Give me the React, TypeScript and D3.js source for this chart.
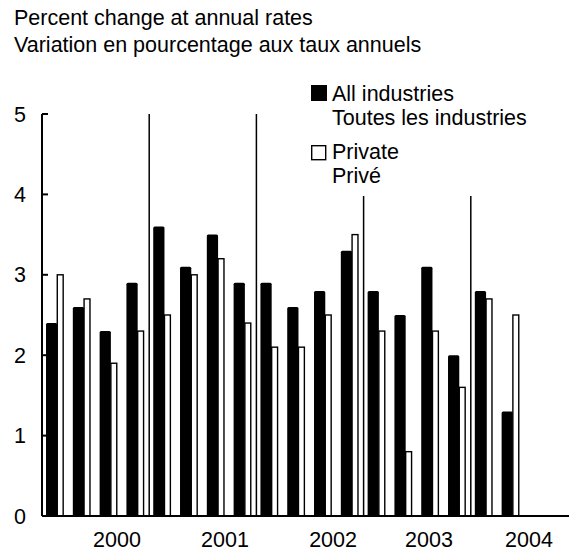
import React from "react";
import * as d3 from "d3";

const quarters = [
  "2000Q1","2000Q2","2000Q3","2000Q4",
  "2001Q1","2001Q2","2001Q3","2001Q4",
  "2002Q1","2002Q2","2002Q3","2002Q4",
  "2003Q1","2003Q2","2003Q3","2003Q4",
  "2004Q1","2004Q2","2004Q3","2004Q4",
];
const allIndustries = [2.4, 2.6, 2.3, 2.9, 3.6, 3.1, 3.5, 2.9, 2.9, 2.6, 2.8, 3.3, 2.8, 2.5, 3.1, 2.0, 2.8, 1.3];
const privateSector = [3.0, 2.7, 1.9, 2.3, 2.5, 3.0, 3.2, 2.4, 2.1, 2.1, 2.5, 3.5, 2.3, 0.8, 2.3, 1.6, 2.7, 2.5];
const years = ["2000", "2001", "2002", "2003", "2004"];
// year label positions, in quarter units from the start of the axis
const yearLabelAt = [2.8, 6.83, 10.86, 14.44, 18.17];
const yTicks = [0, 1, 2, 3, 4, 5];
const titleLines = ["Percent change at annual rates", "Variation en pourcentage aux taux annuels"];
const legendAll = ["All industries", "Toutes les industries"];
const legendPrivate = ["Private", "Privé"];

const W = 569;
const H = 553;
const FONT = "'Liberation Sans', Arial, Helvetica, sans-serif";
const FS = 21.5;

export default function App() {
  const x0 = 42;
  const x = d3.scaleBand<string>().domain(quarters).range([x0, x0 + 26.8 * 20]).padding(0);
  const xq = d3.scaleLinear().domain([0, 20]).range([x0, x0 + 26.8 * 20]);
  const y = d3.scaleLinear().domain([0, 5]).range([516, 114]);
  const bw = x.bandwidth();

  const txt = (s: string, tx: number, ty: number, anchor: string = "start", key?: any) => (
    <text key={key} x={tx} y={ty} textAnchor={anchor} fontFamily={FONT} fontSize={FS} fill="#000">
      {s}
    </text>
  );

  const yearStart = (i: number) => x(quarters[i * 4]) as number;

  return (
    <svg width={W} height={H} style={{ position: "absolute", left: 0, top: 0, background: "#fff" }}>
      <rect width={W} height={H} fill="#fff" />
      {txt(titleLines[0], 14, 25, "start", "t0")}
      {txt(titleLines[1], 14, 52, "start", "t1")}

      {[1, 2, 3, 4].map((i) => (
        <line
          key={"d" + i}
          x1={yearStart(i)}
          x2={yearStart(i)}
          y1={i <= 2 ? y(5) : y(3.98)}
          y2={y(0)}
          stroke="#000"
          strokeWidth={1.5}
        />
      ))}

      {allIndustries.map((v, i) => (
        <rect
          key={"a" + i}
          x={(x(quarters[i]) as number) + bw * 0.15}
          y={y(v)}
          width={bw * 0.42}
          height={y(0) - y(v)}
          rx={1.5}
          fill="#000"
        />
      ))}
      {privateSector.map((v, i) => (
        <rect
          key={"p" + i}
          x={(x(quarters[i]) as number) + bw * 0.57}
          y={y(v)}
          width={bw * 0.22}
          height={y(0) - y(v)}
          fill="#fff"
          stroke="#000"
          strokeWidth={1.4}
        />
      ))}

      <line x1={x0} x2={W} y1={y(0)} y2={y(0)} stroke="#000" strokeWidth={2} />
      <line x1={x0} x2={x0} y1={y(5)} y2={y(0)} stroke="#000" strokeWidth={2} />
      {yTicks.map((t) => (
        <g key={"yt" + t}>
          <line x1={x0} x2={x0 + 6} y1={y(t)} y2={y(t)} stroke="#000" strokeWidth={2} />
          {txt(String(t), 26, y(t) + 7.5, "end")}
        </g>
      ))}
      {years.map((yr, i) => txt(yr, xq(yearLabelAt[i]), 547, "middle", "yr" + i))}

      <rect x={311} y={85} width={16} height={16} fill="#000" />
      {txt(legendAll[0], 332, 101, "start", "l0")}
      {txt(legendAll[1], 332, 125, "start", "l1")}
      <rect x={311.7} y={145.7} width={14} height={14} fill="#fff" stroke="#000" strokeWidth={1.4} />
      {txt(legendPrivate[0], 332, 159, "start", "l2")}
      {txt(legendPrivate[1], 332, 183, "start", "l3")}
    </svg>
  );
}
